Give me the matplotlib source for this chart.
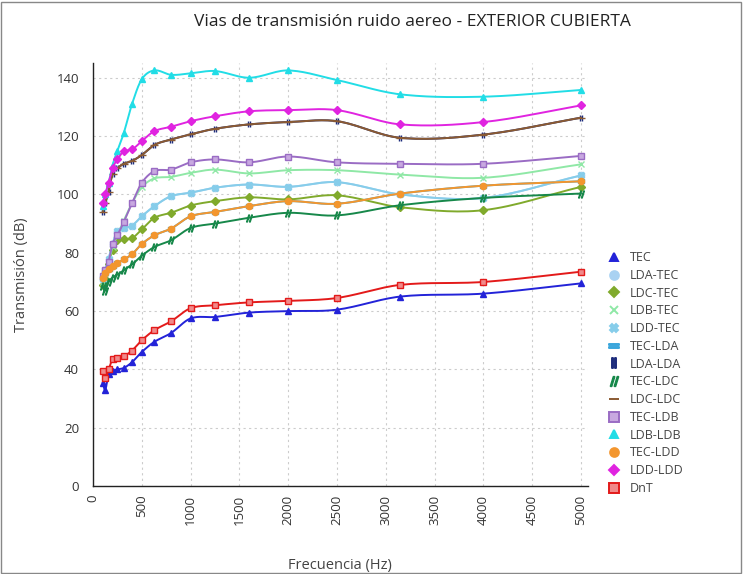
import numpy as np
import matplotlib.pyplot as plt
from matplotlib.lines import Line2D
from matplotlib.patches import Rectangle

plt.rcParams['font.family'] = ['Open Sans', 'DejaVu Sans']

freqs = [100, 125, 160, 200, 250, 315, 400, 500, 630, 800, 1000, 1250,
         1600, 2000, 2500, 3150, 4000, 5000]

tec = [35.5, 33, 38.5, 39.5, 40, 40.5, 42.5, 46, 49.5, 52.5, 57.5, 58,
       59.5, 60, 60.5, 65, 66, 69.5]
ldd_tec = [71, 74, 78, 83, 87.5, 88.5, 89.3, 92.5, 96, 99.4, 100.6, 102.3,
           103.4, 102.6, 104.2, 100, 98.8, 106.5]
lda_tec = ldd_tec
ldc_tec = [69, 71, 76, 81, 84.5, 84.8, 85, 88, 92, 93.7, 96.2, 97.7,
           99, 98.3, 99.7, 95.6, 94.6, 102.6]
ldb_tec = [70, 73, 77, 82, 86, 91, 97, 102.5, 105.5, 106, 107.4, 108.5,
           107.2, 108.3, 108.3, 106.8, 105.7, 110.3]
tec_ldd = [71.5, 73, 74.5, 75.5, 76.5, 77.7, 79.5, 83, 86, 88.3, 92.5, 94,
           96, 97.7, 96.8, 100.3, 103, 104.5]
tec_lda = tec_ldd
tec_ldc = [68.5, 67, 70, 71.5, 72.5, 74, 76, 79, 82, 84.3, 88.5, 90,
           92, 93.7, 92.8, 96.3, 98.8, 100.3]
ldc_ldc = [94, 97, 101, 107, 109, 110.5, 111.5, 113.5, 117, 118.8, 120.6, 122.5,
           124, 124.8, 125.1, 119.4, 120.5, 126.3]
lda_lda = ldc_ldc
tec_ldb = [72, 74, 77, 83, 86, 90.5, 97, 104, 108, 108.5, 111, 112,
           111, 113, 111, 110.5, 110.5, 113.2]
ldb_ldb = [96, 100, 104, 110, 115, 121, 131, 139.5, 142.5, 141, 141.5, 142.3,
           140, 142.5, 139.2, 134.3, 133.5, 135.8]
ldd_ldd = [97, 100, 104, 109, 112, 114.8, 115.4, 118.3, 121.7, 123.2, 125.1, 126.8,
           128.5, 128.9, 128.9, 124, 124.8, 130.5]
dnt = [39.5, 37, 40, 43.5, 44, 44.5, 46.5, 50, 53.5, 56.5, 61, 62,
       63, 63.5, 64.5, 69, 70, 73.5]

labels = ['TEC', 'LDA-TEC', 'LDC-TEC', 'LDB-TEC', 'LDD-TEC', 'TEC-LDA', 'LDA-LDA',
          'TEC-LDC', 'LDC-LDC', 'TEC-LDB', 'LDB-LDB', 'TEC-LDD', 'LDD-LDD', 'DnT']
values = [tec, lda_tec, ldc_tec, ldb_tec, ldd_tec, tec_lda, lda_lda,
          tec_ldc, ldc_ldc, tec_ldb, ldb_ldb, tec_ldd, ldd_ldd, dnt]
colors = ['#2323d8', '#a9d2f2', '#80aa2c', '#8fe8a6', '#86cdea', '#3aa6dc', '#1d2c7c',
          '#17884a', '#8a5a32', '#9a6cc4', '#22dde6', '#f3962e', '#e024e0', '#e31a1a']
faces = ['#2323d8', '#a9d2f2', '#80aa2c', '#8fe8a6', '#86cdea', '#3aa6dc', '#1d2c7c',
         '#17884a', '#8a5a32', '#c8a8e0', '#22dde6', '#f3962e', '#e024e0', '#f08a8a']
markers = ['^', 'o', 'D', 'x', 'X', '$=$', '$||$',
           '$//$', '_', 's', '^', 'o', 'D', 's']
msizes = [4.5, 4.5, 3.8, 4.5, 4.5, 5, 5, 5, 6, 4.8, 4.5, 4.5, 3.8, 4.8]
zorders = [5, 2, 4, 4, 4, 2, 2, 4, 4, 4, 4, 4, 4, 5]


def smooth(x, y, n=16):
    # cubic hermite through the points, for a spline-like line
    x = np.asarray(x, float)
    y = np.asarray(y, float)
    m = np.zeros_like(y)
    m[1:-1] = (y[2:] - y[:-2]) / (x[2:] - x[:-2])
    m[0] = (y[1] - y[0]) / (x[1] - x[0])
    m[-1] = (y[-1] - y[-2]) / (x[-1] - x[-2])
    xs, ys = [], []
    t = np.linspace(0, 1, n, endpoint=False)
    for i in range(len(x) - 1):
        h = x[i + 1] - x[i]
        h00 = 2 * t**3 - 3 * t**2 + 1
        h10 = t**3 - 2 * t**2 + t
        h01 = -2 * t**3 + 3 * t**2
        h11 = t**3 - t**2
        xs.append(x[i] + t * h)
        ys.append(h00 * y[i] + h10 * h * m[i] + h01 * y[i + 1] + h11 * h * m[i + 1])
    xs.append([x[-1]])
    ys.append([y[-1]])
    return np.concatenate(xs), np.concatenate(ys)


fig = plt.figure(figsize=(7.44, 5.74), dpi=100)
ax = fig.add_axes([0.125, 0.153, 0.665, 0.737])

handles = []
for lab, v, c, fc, mk, ms, z in zip(labels, values, colors, faces, markers, msizes, zorders):
    sx, sy = smooth(freqs, v)
    ax.plot(sx, sy, color=c, lw=1.4, zorder=z)
    ax.plot(freqs, v, ls='none', marker=mk, ms=ms, color=c, mfc=fc, mec=c,
            mew=1.0, zorder=z)
    handles.append(Line2D([], [], ls='none', marker=mk, ms=ms + 1.8, color=c,
                          mfc=fc, mec=c, mew=1.4))

ax.set_xlim(0, 5070)
ax.set_ylim(0, 145)
ax.set_xticks(np.arange(0, 5001, 500))
ax.set_yticks(np.arange(0, 141, 20))
ax.tick_params(axis='x', labelrotation=90, labelsize=9.5, colors='#333333', length=0, pad=6)
ax.tick_params(axis='y', labelsize=9.5, colors='#333333', length=0, pad=10)
ax.grid(True, color='#cccccc', ls=(0, (2, 3)), lw=0.8)
ax.set_axisbelow(True)
for s in ['top', 'right']:
    ax.spines[s].set_visible(False)
for s in ['left', 'bottom']:
    ax.spines[s].set_color('#222222')
    ax.spines[s].set_linewidth(1.0)

ax.set_xlabel('Frecuencia (Hz)', fontsize=10.5, color='#444444', labelpad=24)
ax.set_ylabel('Transmisión (dB)', fontsize=10.5, color='#444444', labelpad=20)
fig.text(0.555, 0.962, 'Vias de transmisión ruido aereo - EXTERIOR CUBIERTA',
         ha='center', va='center', fontsize=12.5, color='#222222')

ax.legend(handles=handles, labels=labels, loc='upper left',
          bbox_to_anchor=(0.80, 0.582), bbox_transform=fig.transFigure,
          frameon=False, fontsize=9, labelspacing=0.38, handletextpad=0.7,
          handlelength=1.2, labelcolor='#444444')

fig.patches.append(Rectangle((0.002, 0.002), 0.994, 0.994, transform=fig.transFigure,
                             fill=False, edgecolor='#888888', lw=1))

fig.savefig('out.png', dpi=100, facecolor='white')
